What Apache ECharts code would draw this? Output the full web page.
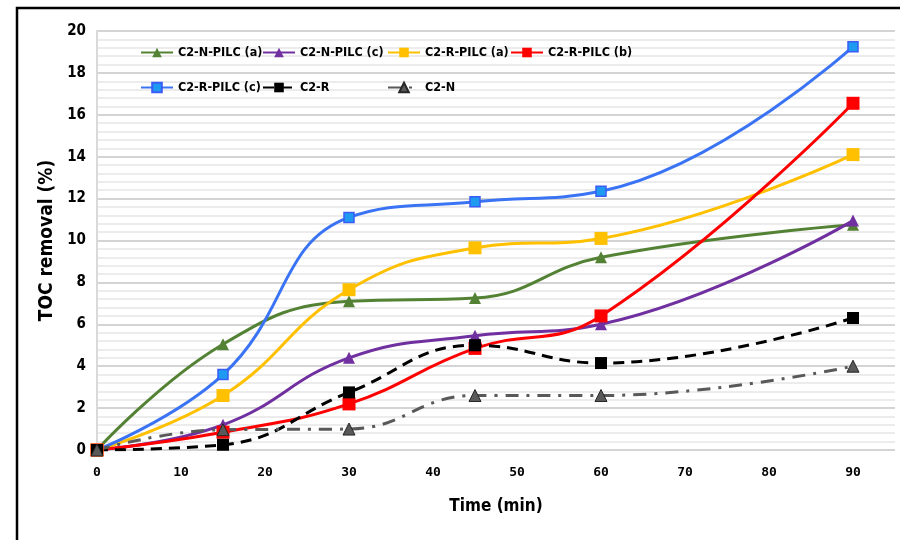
<!DOCTYPE html>
<html>
<head>
<meta charset="utf-8">
<script src="https://cdn.jsdelivr.net/npm/echarts@6/dist/echarts.min.js"></script>
<style>html,body{margin:0;padding:0;background:#fff}#c{width:900px;height:540px}</style>
</head>
<body>
<div id="c"></div>
<script>
// ---- data ----
const time = [0, 15, 30, 45, 60, 90];
const nPilcA = [0, 5.05, 7.1, 7.25, 9.2, 10.75];
const nPilcC = [0, 1.2, 4.4, 5.45, 6.0, 10.95];
const rPilcA = [0, 2.6, 7.65, 9.65, 10.1, 14.1];
const rPilcB = [0, 0.85, 2.2, 4.85, 6.4, 16.55];
const rPilcC = [0, 3.6, 11.1, 11.85, 12.35, 19.25];
const c2R = [0, 0.25, 2.75, 5.0, 4.15, 6.3];
const c2N = [0, 0.97, 1.0, 2.6, 2.6, 4.0];
const xTicks = [0, 10, 20, 30, 40, 50, 60, 70, 80, 90];
const names = ['C2-N-PILC (a)', 'C2-N-PILC (c)', 'C2-R-PILC (a)', 'C2-R-PILC (b)', 'C2-R-PILC (c)', 'C2-R', 'C2-N'];

const FONT = "'DejaVu Sans Condensed', 'DejaVu Sans', sans-serif";
const pts = v => time.map((t, i) => [t, v[i]]);

function mk(name, vals, color, symbol, size, opts) {
  opts = opts || {};
  return {
    name: name, type: 'line', data: pts(vals), smooth: 0.45,
    symbol: symbol, symbolSize: size,
    lineStyle: { color: color, width: 3, type: opts.dash || 'solid' },
    itemStyle: { color: opts.mcolor || color, borderColor: opts.bcolor || opts.mcolor || color, borderWidth: opts.bw || 0 },
    emphasis: { disabled: true },
    z: opts.z || 2
  };
}

const series = [
  mk(names[0], nPilcA, '#548235', 'triangle', 12),
  mk(names[1], nPilcC, '#7030A0', 'triangle', 12),
  mk(names[2], rPilcA, '#FFC000', 'rect', 13),
  mk(names[3], rPilcB, '#FF0000', 'rect', 13),
  mk(names[4], rPilcC, '#3A74F5', 'rect', 10, { mcolor: '#1E9BF0', bcolor: '#3A5CF5', bw: 1.5 }),
  mk(names[5], c2R, '#000000', 'rect', 12, { dash: [11, 7] }),
  mk(names[6], c2N, '#595959', 'triangle', 12, { dash: [13, 8, 3, 8], mcolor: '#595959', bcolor: '#262626', bw: 1 })
];

// legend layout: one legend per item, placed in a 4-column grid
const legCols = [140, 262, 387, 510];
const legRows = [46, 81];
const legends = names.map((n, i) => ({
  data: [n], left: legCols[i % 4], top: legRows[Math.floor(i / 4)],
  padding: 0, itemWidth: 32, itemHeight: 12, itemGap: 0,
  textStyle: { fontFamily: FONT, fontWeight: 'bold', fontSize: 12.5, color: '#000' },
  selectedMode: false
}));

const chart = echarts.init(document.getElementById('c'), null, { renderer: 'canvas' });
chart.setOption({
  animation: false,
  backgroundColor: '#fff',
  graphic: [{
    type: 'rect', shape: { x: 17, y: 8, width: 1000, height: 1000 },
    style: { fill: null, stroke: '#000', lineWidth: 2.5 }, silent: true
  }],
  legend: legends,
  grid: { left: 97, right: 5, top: 31, bottom: 90, containLabel: false },
  xAxis: {
    type: 'value', min: 0, max: 95, interval: 10,
    name: 'Time (min)', nameLocation: 'middle', nameGap: 48,
    nameTextStyle: { fontFamily: FONT, fontWeight: 'bold', fontSize: 17, color: '#000' },
    axisLine: { show: false }, axisTick: { show: false }, splitLine: { show: false },
    axisLabel: {
      fontFamily: "'DejaVu Sans Mono', monospace", fontWeight: 'bold', fontSize: 13, color: '#000', margin: 16,
      formatter: v => (xTicks.indexOf(v) >= 0 ? String(v) : '')
    }
  },
  yAxis: {
    type: 'value', min: 0, max: 20, interval: 2,
    name: 'TOC removal (%)', nameLocation: 'middle', nameGap: 29, nameRotate: 90,
    nameTextStyle: { fontFamily: FONT, fontWeight: 'bold', fontSize: 19, color: '#000' },
    axisLine: { show: true, lineStyle: { color: '#d9d9d9', width: 2 } },
    axisTick: { show: false },
    axisLabel: { fontFamily: FONT, fontWeight: 'bold', fontSize: 15, color: '#000', margin: 11 },
    splitLine: { show: true, lineStyle: { color: '#d4d4d4', width: 2 } },
    minorTick: { show: false, splitNumber: 5 },
    minorSplitLine: { show: true, lineStyle: { color: '#ececec', width: 2 } }
  },
  series: series
});
</script>
</body>
</html>
